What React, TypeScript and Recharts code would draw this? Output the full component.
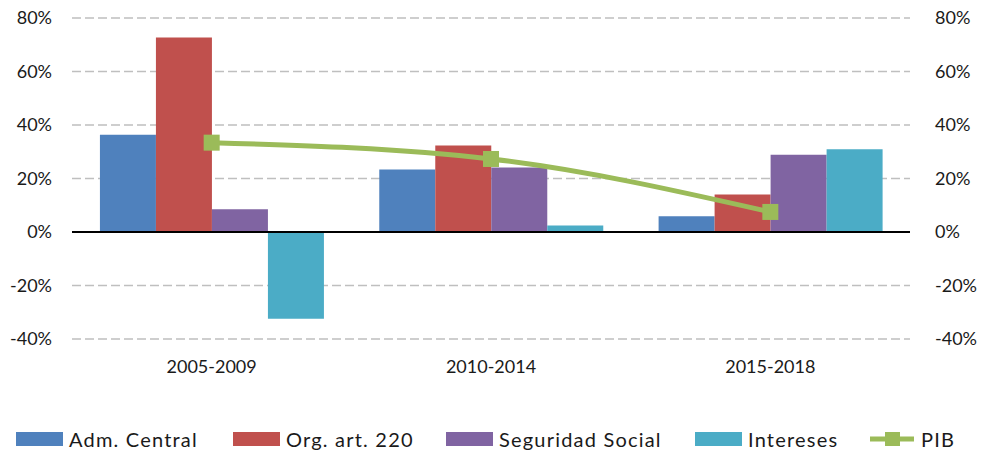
import React from 'react';
import {
  Bar,
  CartesianGrid,
  ComposedChart,
  Line,
  ReferenceLine,
  XAxis,
  YAxis,
} from 'recharts';

// Periods and growth per component (%).
const PERIODS = ['2005-2009', '2010-2014', '2015-2018'];
const ADM_CENTRAL = [36.4, 23.4, 5.9];
const ORG_ART_220 = [72.7, 32.3, 14.0];
const SEGURIDAD_SOCIAL = [8.5, 24.1, 28.9];
const INTERESES = [-32.4, 2.4, 30.9];
const PIB = [33.4, 27.3, 7.5];
const Y_TICKS = [-40, -20, 0, 20, 40, 60, 80];

const SERIES = [
  { key: 'adm', name: 'Adm. Central', color: '#4F81BD', legendX: 16 },
  { key: 'org', name: 'Org. art. 220', color: '#C0504D', legendX: 233 },
  { key: 'seg', name: 'Seguridad Social', color: '#8064A2', legendX: 446 },
  { key: 'int', name: 'Intereses', color: '#4BACC6', legendX: 695 },
];
const PIB_COLOR = '#9BBB59';

const FONT = 'Lato, "Open Sans", sans-serif';
const TEXT = '#1a1a1a';

const data = PERIODS.map((p, i) => ({
  period: p,
  adm: ADM_CENTRAL[i],
  org: ORG_ART_220[i],
  seg: SEGURIDAD_SOCIAL[i],
  int: INTERESES[i],
  pib: PIB[i],
}));

const pct = (v: number) => `${v}%`;

// square marker like the spreadsheet's
function SquareDot(props: { cx?: number; cy?: number }) {
  const { cx, cy } = props;
  if (cx == null || cy == null) return null;
  return <rect x={cx - 8} y={cy - 8} width={16} height={16} fill={PIB_COLOR} />;
}

const legendText: React.CSSProperties = {
  fontFamily: FONT,
  fontSize: 20,
  letterSpacing: 1.2,
  color: TEXT,
  lineHeight: '20px',
};

function LegendRow() {
  return (
    <div style={{ position: 'absolute', left: 0, top: 429, width: 986, height: 20 }}>
      {SERIES.map((s) => (
        <div
          key={s.key}
          style={{ position: 'absolute', left: s.legendX, top: 0, display: 'flex', alignItems: 'center' }}
        >
          <span style={{ width: 47, height: 14, background: s.color, marginRight: 6 }} />
          <span style={legendText}>{s.name}</span>
        </div>
      ))}
      <div style={{ position: 'absolute', left: 870, top: 0, display: 'flex', alignItems: 'center' }}>
        <svg width={44} height={18} style={{ marginRight: 7 }}>
          <line x1={0} y1={9} x2={44} y2={9} stroke={PIB_COLOR} strokeWidth={5} />
          <rect x={15} y={2} width={15} height={14} fill={PIB_COLOR} />
        </svg>
        <span style={legendText}>PIB</span>
      </div>
    </div>
  );
}

export default function App() {
  const tick = { fontFamily: FONT, fontSize: 18, fill: TEXT };
  return (
    <div style={{ position: 'absolute', left: 0, top: 0, width: 986, height: 453, background: '#fff' }}>
      <ComposedChart
        width={986}
        height={400}
        data={data}
        margin={{ top: 18, right: 0, bottom: 0, left: 0 }}
        barCategoryGap="10%"
        barGap={0}
      >
        <CartesianGrid
          yAxisId="left"
          vertical={false}
          stroke="#BFBFBF"
          strokeWidth={1.5}
          strokeDasharray="9 4"
        />
        <XAxis
          dataKey="period"
          axisLine={false}
          tickLine={false}
          tickSize={0}
          tickMargin={21}
          height={61}
          tick={tick}
        />
        <YAxis
          yAxisId="left"
          domain={[-40, 80]}
          ticks={Y_TICKS}
          tickFormatter={pct}
          axisLine={false}
          tickLine={false}
          tickSize={0}
          tickMargin={20}
          width={72}
          tick={tick}
        />
        <YAxis
          yAxisId="right"
          orientation="right"
          domain={[-40, 80]}
          ticks={Y_TICKS}
          tickFormatter={pct}
          axisLine={false}
          tickLine={false}
          tickSize={0}
          tickMargin={25}
          width={76}
          tick={tick}
        />
        {SERIES.map((s) => (
          <Bar
            key={s.key}
            yAxisId="left"
            dataKey={s.key}
            name={s.name}
            fill={s.color}
            isAnimationActive={false}
          />
        ))}
        <ReferenceLine yAxisId="left" y={0} stroke="#000" strokeWidth={2} />
        <Line
          yAxisId="right"
          type="monotone"
          dataKey="pib"
          name="PIB"
          stroke={PIB_COLOR}
          strokeWidth={5}
          dot={<SquareDot />}
          activeDot={false}
          isAnimationActive={false}
        />
      </ComposedChart>
      <LegendRow />
    </div>
  );
}
